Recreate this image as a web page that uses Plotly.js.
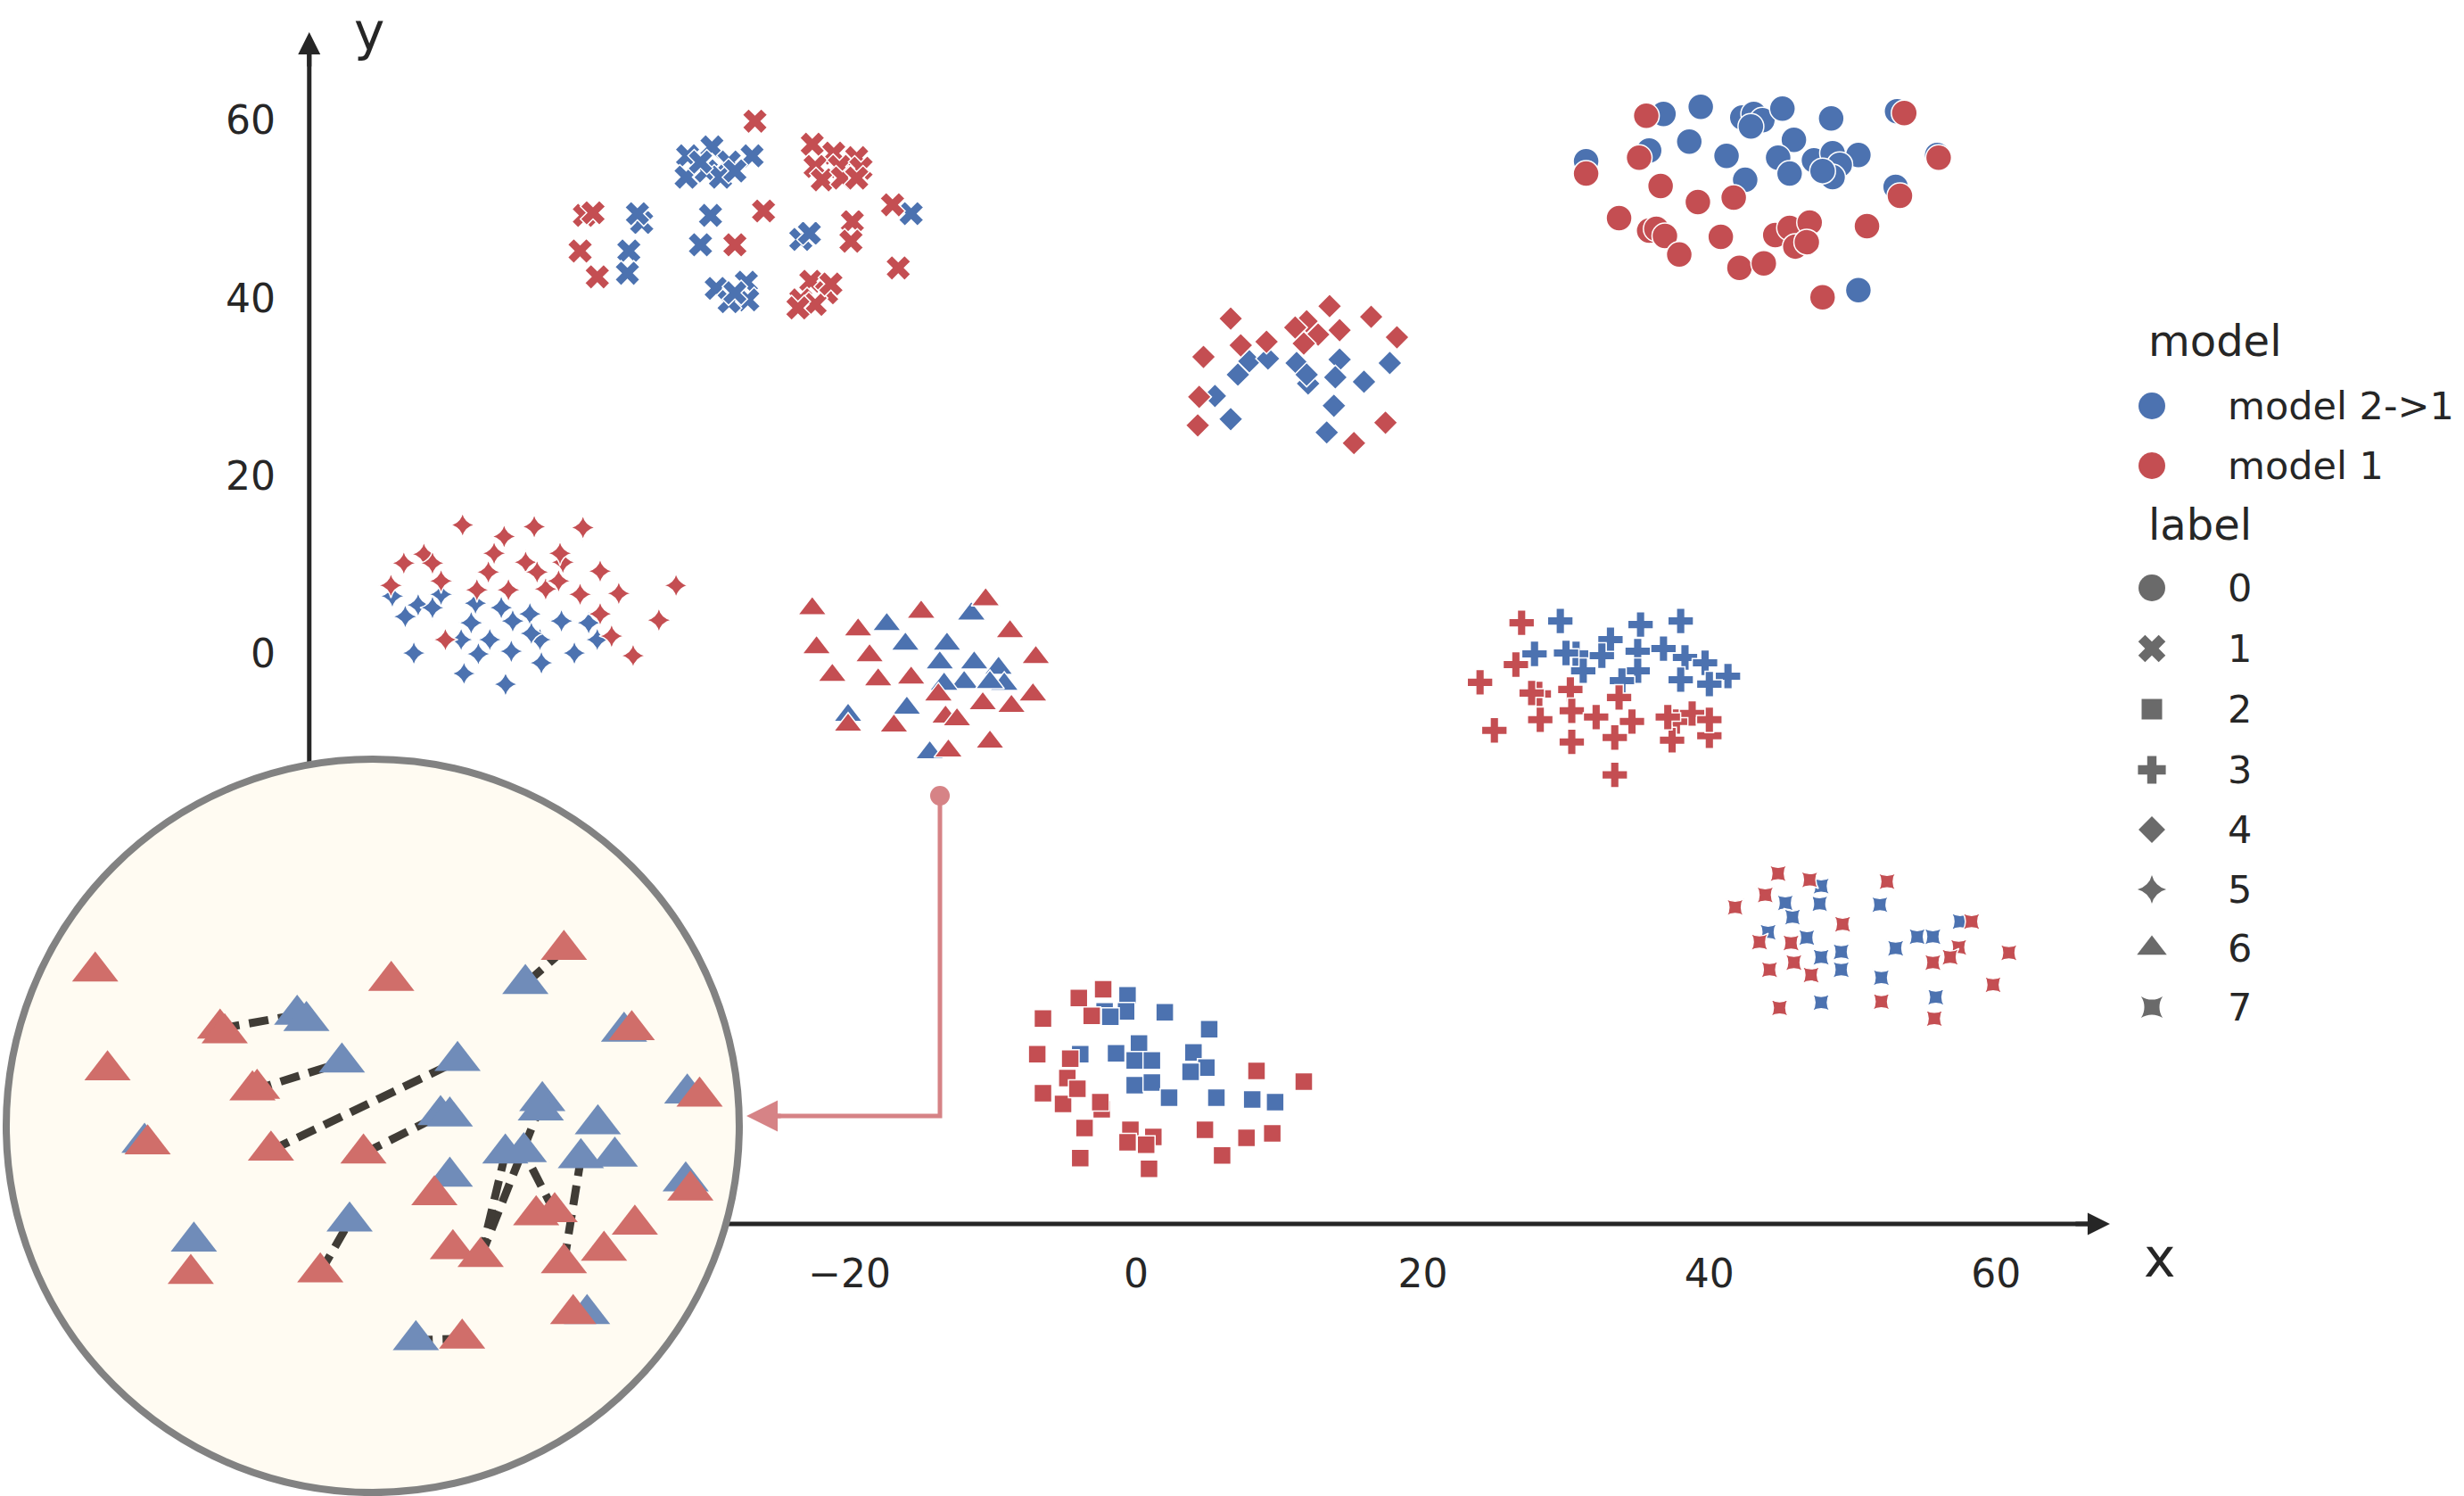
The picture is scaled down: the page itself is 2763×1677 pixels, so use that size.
<!DOCTYPE html>
<html>
<head>
<meta charset="utf-8">
<script src="https://cdn.plot.ly/plotly-3.0.1.min.js"></script>
<style>
  html, body { margin: 0; padding: 0; background: #ffffff; }
  #chart { width: 2763px; height: 1677px; }
</style>
</head>
<body>
<div id="chart"></div>
<script>
// ---------------- data ----------------
const MODELS = ['model 2->1', 'model 1'];
const LABELS = ['0', '1', '2', '3', '4', '5', '6', '7'];
const X_TICKS = [-20, 0, 20, 40, 60];
const Y_TICKS = [0, 20, 40, 60];

// embedding points, one list per (label, model); each entry is [x, y]
const L0_M21 = [[36.8,60.7],[39.4,61.5],[42.3,60.3],[43.1,60.7],[43.7,60.0],[42.9,59.3],[45.1,61.3],[48.5,60.2],
  [35.8,56.6],[38.6,57.6],[41.2,56.0],[42.5,53.3],[45.9,57.8],[44.8,55.8],[45.6,54.0],[47.3,55.5],[48.6,56.3],
  [50.4,56.1],[49.1,55.0],[48.6,53.6],[47.9,54.3],[53.0,52.5],[50.4,40.9],[53.1,61.0],[31.4,55.4],[55.9,56.1]];
const L0_M1 = [[35.6,60.5],[35.1,55.8],[31.4,54.0],[36.6,52.6],[39.2,50.8],[41.7,51.3],[33.7,49.0],[35.8,47.6],
  [36.3,47.8],[36.9,47.0],[37.9,44.9],[40.8,46.9],[42.1,43.4],[43.8,43.9],[44.6,47.1],[45.6,47.9],[47.0,48.5],
  [46.0,45.8],[46.8,46.3],[51.0,48.1],[53.3,51.5],[53.6,60.8],[56.0,55.8],[47.9,40.1]];

const L1_M21 = [[-31.3,56.0],[-29.6,57.0],[-28.4,55.3],[-26.8,56.0],[-31.4,53.6],[-30.0,54.3],[-29.0,53.6],[-28.0,54.3],
  [-30.4,55.3],[-34.5,48.5],[-34.8,49.5],[-35.4,45.3],[-35.5,42.8],[-29.7,49.3],[-30.4,46.0],[-23.4,46.6],[-22.8,47.3],
  [-15.7,49.5],[-29.3,41.1],[-27.2,41.8],[-27.1,39.8],[-28.4,39.6],[-28.0,40.6]];
const L1_M1 = [[-26.6,59.9],[-22.6,57.3],[-21.1,56.3],[-19.5,55.8],[-22.4,54.8],[-20.7,54.8],[-19.2,54.6],[-21.9,53.3],
  [-20.5,53.5],[-19.5,53.5],[-17.0,50.5],[-26.0,49.8],[-19.8,48.6],[-19.9,46.4],[-28.0,46.0],[-38.5,49.3],[-37.9,49.6],
  [-38.8,45.3],[-37.6,42.4],[-16.6,43.4],[-22.7,41.9],[-21.6,40.6],[-23.4,39.8],[-22.4,39.3],[-21.3,41.6],[-23.6,38.9]];

const L2_M21 = [[-0.6,-38.4],[-0.7,-40.2],[2.0,-40.3],[5.1,-42.2],[-3.9,-45.0],[-1.4,-44.9],[0.2,-43.8],[-0.1,-45.7],
  [1.1,-45.7],[-0.1,-48.5],[1.1,-48.2],[2.3,-49.9],[4.0,-44.8],[4.9,-46.5],[3.8,-47.0],[5.6,-49.9],[8.1,-50.1],
  [9.7,-50.4],[-2.2,-40.2],[-1.8,-40.8]];
const L2_M1 = [[-6.5,-41.0],[-6.9,-45.0],[-2.3,-37.7],[-4.0,-38.7],[-3.1,-40.7],[-4.6,-45.5],[-4.8,-47.7],[-6.5,-49.4],
  [-5.1,-50.6],[-4.1,-48.9],[-2.4,-51.2],[-2.5,-50.4],[-3.6,-53.3],[-3.9,-56.7],[-0.4,-53.5],[1.2,-54.3],[0.7,-55.2],
  [0.9,-57.9],[4.8,-53.5],[6.0,-56.4],[8.4,-46.9],[11.7,-48.1],[7.7,-54.4],[9.5,-53.9],[-0.6,-54.9]];

const L3_M21 = [[29.6,3.7],[27.8,0.0],[35.2,3.3],[38.0,3.7],[33.1,1.6],[35.0,0.3],[36.8,0.6],[30.7,0.0],[32.5,-0.2],
  [31.2,-1.9],[35.0,-1.9],[38.3,-0.4],[39.7,-1.0],[38.0,-2.9],[41.3,-2.5],[33.9,-3.0],[40.0,-3.4],[30.0,0.1]];
const L3_M1 = [[26.9,3.5],[26.5,-1.2],[24.0,-3.2],[28.1,-4.5],[30.3,-4.0],[28.2,-7.4],[30.4,-6.4],[32.1,-7.1],
  [33.7,-4.9],[34.6,-7.6],[33.4,-9.4],[30.4,-9.9],[25.0,-8.6],[33.4,-13.6],[37.7,-7.6],[38.8,-6.7],[37.4,-9.7],
  [40.0,-9.2],[40.0,-7.4],[37.1,-7.1],[27.6,-4.4]];

const L4_M21 = [[7.9,32.9],[9.2,33.2],[7.1,31.4],[5.5,29.0],[6.6,26.4],[11.2,32.7],[12.0,30.4],[14.2,33.1],[13.9,31.1],
  [15.9,30.6],[17.7,32.7],[13.8,27.9],[13.3,24.9],[11.9,31.4]];
const L4_M1 = [[6.6,37.7],[7.3,34.7],[9.1,35.1],[4.7,33.4],[11.9,37.4],[13.5,39.1],[14.2,36.4],[12.7,35.9],[11.1,36.7],
  [11.7,34.9],[16.4,37.9],[18.2,35.6],[4.4,28.9],[4.3,25.7],[17.4,26.0],[15.2,23.7]];

const L5_M21 = [[-51.9,6.5],[-51.0,4.2],[-50.1,5.5],[-49.1,5.2],[-48.5,6.7],[-46.1,5.7],[-46.4,3.5],[-44.3,5.2],
  [-43.5,3.7],[-42.3,4.5],[-45.1,1.6],[-45.9,0.0],[-43.6,0.3],[-41.6,1.6],[-42.2,2.3],[-40.1,3.7],[-38.2,3.5],
  [-37.6,1.6],[-50.4,0.1],[-46.9,-2.2],[-41.5,-1.0],[-39.2,0.1],[-44.0,-3.4],[-47.1,1.6]];
const L5_M1 = [[-47.0,14.5],[-44.1,13.2],[-42.0,14.3],[-38.6,14.2],[-51.1,10.2],[-49.7,11.2],[-49.1,10.2],[-48.5,8.2],
  [-52.0,7.7],[-44.8,11.3],[-45.2,9.2],[-46.0,7.2],[-43.8,7.2],[-42.6,10.3],[-41.8,9.2],[-41.2,7.3],[-40.3,8.2],
  [-40.0,10.3],[-40.2,11.3],[-38.8,6.7],[-37.4,9.3],[-36.1,6.8],[-32.1,7.7],[-37.4,4.5],[-33.3,3.8],[-48.2,1.6],
  [-36.6,2.0],[-35.1,-0.2]];

const L6_M21 = [[-17.4,3.3],[-16.1,1.1],[-13.2,1.1],[-13.7,-1.0],[-11.5,4.5],[-11.3,-1.0],[-9.6,-1.6],[-12.0,-3.2],
  [-9.2,-3.4],[-16.0,-6.1],[-20.1,-6.9],[-14.4,-11.1],[-13.4,-3.4],[-10.2,-3.2]];
const L6_M1 = [[-22.6,5.1],[-19.4,2.7],[-22.3,0.7],[-21.2,-2.4],[-18.6,-0.2],[-18.0,-2.9],[-15.0,4.7],[-15.7,-2.7],
  [-10.5,6.1],[-8.8,2.5],[-7.0,-0.4],[-7.2,-4.6],[-13.8,-4.6],[-13.3,-7.1],[-12.5,-7.4],[-10.7,-5.6],[-8.7,-5.9],
  [-10.2,-9.9],[-20.1,-8.0],[-16.9,-8.1],[-13.1,-10.9]];

const L7_M21 = [[45.3,-28.0],[45.8,-29.6],[47.7,-28.1],[47.8,-26.1],[44.1,-31.3],[46.8,-31.9],[47.8,-34.1],[49.2,-33.5],
  [49.2,-35.5],[47.8,-39.2],[51.9,-28.2],[53.0,-33.1],[54.5,-31.8],[55.6,-31.8],[52.0,-36.4],[55.8,-38.6],[57.5,-30.1]];
const L7_M1 = [[44.8,-24.7],[47.0,-25.4],[43.9,-27.1],[41.8,-28.5],[49.3,-30.4],[52.4,-25.6],[43.5,-32.4],[45.7,-32.5],
  [45.9,-34.7],[44.2,-35.5],[47.1,-36.1],[44.9,-39.8],[52.0,-39.1],[58.3,-30.1],[57.4,-33.0],[56.8,-34.1],[55.6,-34.7],
  [60.9,-33.6],[59.8,-37.2],[55.7,-41.0]];

// magnified view of the label-6 cluster
const INSET_M21 = [[-17.45,1.6],[-17.15,1.4],[-16.0,0.05],[-12.25,0.1],[-10.05,2.6],[-12.8,-1.65],[-12.5,-1.7],
  [-9.5,-1.2],[-9.55,-1.5],[-7.7,-1.95],[-10.7,-2.9],[-10.1,-2.85],[-8.25,-3.05],[-7.15,-3.0],[-12.5,-3.65],
  [-15.75,-5.1],[-20.8,-5.75],[-13.6,-8.95],[-8.05,-8.1],[-6.85,1.05],[-4.8,-0.95],[-4.85,-3.8],[-22.4,-2.55]];
const INSET_M1 = [[-24.0,3.0],[-23.6,-0.2],[-22.3,-2.6],[-19.95,1.15],[-19.8,1.0],[-18.9,-0.85],[-18.75,-0.8],
  [-18.3,-2.8],[-14.4,2.7],[-15.3,-2.9],[-8.8,3.7],[-6.6,1.1],[-4.4,-1.05],[-4.7,-4.1],[-13.0,-4.25],[-20.9,-6.8],
  [-16.7,-6.75],[-12.4,-6.0],[-11.5,-6.25],[-9.7,-4.9],[-9.1,-4.8],[-8.8,-6.45],[-7.5,-6.05],[-6.5,-5.2],
  [-8.5,-8.1],[-12.1,-8.9]];
// matched pairs: [index in INSET_M1, index in INSET_M21]
const INSET_LINKS = [[3,0],[5,2],[7,3],[9,5],[10,4],[18,7],[18,10],[20,11],[21,12],[16,15],[25,17]];

// ---------------- styles ----------------
const COLORS = ['#4c72b0', '#c44e52'];
const INSET_COLORS = ['#708cb9', '#d06e6a'];
const SYMBOLS = ['circle', 'x', 'square', 'cross', 'diamond', 'star-diamond', 'triangle-up', 'star-square'];
const SIZES = [29, 25, 20, 24, 21, 20, 28, 18];
const LEGEND_SIZES = [30, 27, 23, 26, 23, 23, 29, 22];
const INK = '#262626';
const FONT = 'DejaVu Sans, Noto Sans, sans-serif';
const ARROW_PINK = '#d68386';

const POINTS = [
  [L0_M21, L0_M1], [L1_M21, L1_M1], [L2_M21, L2_M1], [L3_M21, L3_M1],
  [L4_M21, L4_M1], [L5_M21, L5_M1], [L6_M21, L6_M1], [L7_M21, L7_M1]
];

const traces = [];

// main scatter: model 2->1 first, model 1 drawn on top
LABELS.forEach(function (lab, i) {
  [0, 1].forEach(function (m) {
    const pts = POINTS[i][m];
    traces.push({
      type: 'scatter', mode: 'markers', xaxis: 'x', yaxis: 'y',
      name: MODELS[m] + ' / ' + lab, showlegend: false, hoverinfo: 'skip',
      x: pts.map(p => p[0]), y: pts.map(p => p[1]),
      marker: { symbol: SYMBOLS[i], size: SIZES[i], color: COLORS[m],
                line: { color: '#ffffff', width: 1.5 } }
    });
  });
});

// inset: dashed links between matched points, then markers
const linkX = [], linkY = [];
INSET_LINKS.forEach(function (pair) {
  const r = INSET_M1[pair[0]], b = INSET_M21[pair[1]];
  linkX.push(r[0], b[0], null);
  linkY.push(r[1], b[1], null);
});
traces.push({
  type: 'scatter', mode: 'lines', xaxis: 'x2', yaxis: 'y2', showlegend: false, hoverinfo: 'skip',
  x: linkX, y: linkY,
  line: { color: '#403c36', width: 9, dash: '22px,11px' }
});
[INSET_M21, INSET_M1].forEach(function (pts, m) {
  traces.push({
    type: 'scatter', mode: 'markers', xaxis: 'x2', yaxis: 'y2', showlegend: false, hoverinfo: 'skip',
    x: pts.map(p => p[0]), y: pts.map(p => p[1]),
    marker: { symbol: 'triangle-up', size: 45, color: INSET_COLORS[m], line: { width: 0 } }
  });
});

// legend drawn in a pixel-space overlay (x3/y3)
const LEG_MARK_X = 2413, LEG_TEXT_X = 2496, LEG_TITLE_X = 2407;
const LEG_MODEL_ROWS = [455, 522];
const LEG_LABEL_ROWS = [659, 727, 795, 863, 930, 997, 1063, 1129];
traces.push({
  type: 'scatter', mode: 'markers', xaxis: 'x3', yaxis: 'y3', showlegend: false, hoverinfo: 'skip',
  x: MODELS.map(() => LEG_MARK_X), y: LEG_MODEL_ROWS,
  marker: { symbol: 'circle', size: 30, color: COLORS, line: { width: 0 } }
});
traces.push({
  type: 'scatter', mode: 'markers', xaxis: 'x3', yaxis: 'y3', showlegend: false, hoverinfo: 'skip',
  x: LABELS.map(() => LEG_MARK_X), y: LEG_LABEL_ROWS,
  marker: { symbol: SYMBOLS, size: LEGEND_SIZES, color: '#2b2b2b', line: { width: 0 } }
});

const annotations = [];
function txt(s, x, y, size, anchor, vanchor) {
  annotations.push({ xref: 'x3', yref: 'y3', x: x, y: y, text: s, showarrow: false,
    xanchor: anchor || 'left', yanchor: vanchor || 'middle', font: { family: FONT, size: size, color: INK } });
}
txt('model', LEG_TITLE_X, 382, 48);
MODELS.forEach((s, k) => txt(s, LEG_TEXT_X, LEG_MODEL_ROWS[k], 43));
txt('label', LEG_TITLE_X, 588, 48);
LABELS.forEach((s, k) => txt(s, LEG_TEXT_X, LEG_LABEL_ROWS[k], 43));
txt('x', 2422, 1410, 60, 'center');
txt('y', 414, 0, 58, 'center', 'top');

// arrow heads of the axes and of the zoom pointer
function head(x, y, ax, ay, color, size) {
  annotations.push({ xref: 'x', yref: 'y', x: x, y: y, ax: ax, ay: ay, text: '', showarrow: true,
    arrowhead: 2, arrowsize: size, arrowwidth: 5, arrowcolor: color });
}
head(67.95, -64.1, -40, 0, INK, 1.0);
head(-57.7, 69.9, 0, 40, INK, 1.0);
head(-27.19, -51.96, 40, 0, ARROW_PINK, 1.4);

const shapes = [
  // axis spines
  { type: 'line', xref: 'x', yref: 'y', x0: -57.7, x1: 66.5, y0: -64.1, y1: -64.1,
    line: { color: INK, width: 5 }, layer: 'below' },
  { type: 'line', xref: 'x', yref: 'y', x0: -57.7, x1: -57.7, y0: -64.1, y1: 68.5,
    line: { color: INK, width: 5 }, layer: 'below' },
  // pointer from the label-6 cluster to the magnified view
  { type: 'path', xref: 'x', yref: 'y', path: 'M -13.69,-15.95 L -13.69,-51.96 L -25.5,-51.96',
    line: { color: ARROW_PINK, width: 5 }, layer: 'below' },
  { type: 'circle', xref: 'x', yref: 'y', xsizemode: 'pixel', ysizemode: 'pixel',
    xanchor: -13.69, yanchor: -15.95, x0: -11, x1: 11, y0: -11, y1: 11,
    fillcolor: ARROW_PINK, line: { width: 0 }, layer: 'below' },
  // magnifier disc
  { type: 'circle', xref: 'x2', yref: 'y2', x0: -26.885, x1: -3.114, y0: -13.887, y1: 9.884,
    fillcolor: '#fffbf2', line: { color: '#828282', width: 8 }, layer: 'below' }
];

const axisCommon = { showgrid: false, zeroline: false, showline: false, ticks: '', fixedrange: true };

const layout = {
  width: 2763, height: 1677,
  margin: { l: 0, r: 0, t: 0, b: 0, pad: 0 },
  paper_bgcolor: '#ffffff', plot_bgcolor: 'rgba(0,0,0,0)',
  showlegend: false,
  font: { family: FONT, color: INK },
  xaxis: Object.assign({}, axisCommon, {
    domain: [0, 1], range: [-79.28, 92.66], anchor: 'free', position: 0.18187,
    tickvals: X_TICKS, tickfont: { family: FONT, size: 44, color: INK }, ticklabelstandoff: 26
  }),
  yaxis: Object.assign({}, axisCommon, {
    domain: [0, 1], range: [-94.68, 73.52], anchor: 'free', position: 0.12559,
    tickvals: Y_TICKS, tickfont: { family: FONT, size: 44, color: INK }, ticklabelstandoff: 38
  }),
  xaxis2: Object.assign({}, axisCommon, { domain: [0, 0.30329], range: [-27.087, -2.853], anchor: 'y2', visible: false }),
  yaxis2: Object.assign({}, axisCommon, { domain: [0, 0.4997], range: [-14.0, 10.231], anchor: 'x2', visible: false }),
  xaxis3: Object.assign({}, axisCommon, { domain: [0, 1], range: [0, 2763], anchor: 'y3', visible: false }),
  yaxis3: Object.assign({}, axisCommon, { domain: [0, 1], range: [1677, 0], anchor: 'x3', visible: false }),
  shapes: shapes,
  annotations: annotations
};

Plotly.newPlot('chart', traces, layout, { staticPlot: true, displayModeBar: false });
</script>
</body>
</html>
